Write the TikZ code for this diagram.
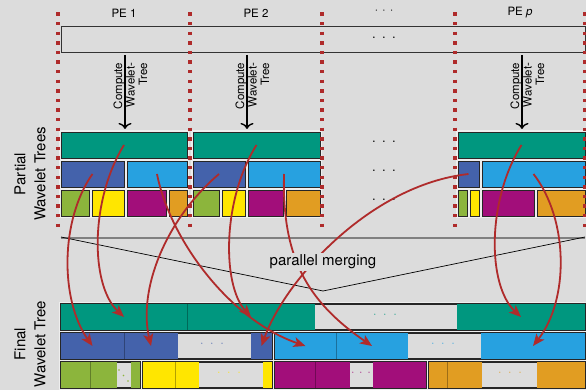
\documentclass[tikz,border=0pt]{standalone}
\usepackage{fontspec}
\setmainfont{TeX Gyre Heros}
\usetikzlibrary{arrows.meta}
\definecolor{bgcol}{HTML}{DCDCDC}
\definecolor{halocol}{HTML}{EEEEEE}
\definecolor{tealcol}{HTML}{00977F}
\definecolor{dbluecol}{HTML}{4462AB}
\definecolor{lbluecol}{HTML}{27A1E0}
\definecolor{greencol}{HTML}{8CB53C}
\definecolor{yellowcol}{HTML}{FFE600}
\definecolor{magcol}{HTML}{A20E7A}
\definecolor{orangecol}{HTML}{E19D22}
\definecolor{pecol}{HTML}{AF2B2B}

\begin{document}
\begin{tikzpicture}[
  x=1pt, y=-1pt,
  font=\fontsize{11.5}{12.5}\selectfont,
  cell/.style  = {draw=black!85, line width=0.9pt, inner sep=0pt, outer sep=0pt,
                  minimum height=26pt, anchor=north west,
                  preaction={draw=halocol, line width=3.6pt}},
  grp/.style   = {draw=black!85, fill=bgcol, line width=1.6pt, inner sep=0pt,
                  outer sep=0pt, minimum height=26pt, anchor=north west,
                  preaction={draw=halocol, line width=4.4pt}},
  seg/.style   = {inner sep=0pt, outer sep=0pt, minimum height=26pt, anchor=north west},
  sep/.style   = {line width=0.7pt, draw=black, draw opacity=0.3},
  pedots/.style= {draw=pecol, line width=3.3pt, dash pattern=on 3.3pt off 6.3pt},
  cmp/.style   = {-{Computer Modern Rightarrow[length=6pt,width=13pt]}, line width=1.4pt,
                  shorten >=3pt},
  cmptxt/.style= {rotate=90, align=right, inner sep=0pt},
  side/.style  = {rotate=90, align=center, font=\fontsize{15}{20}\selectfont},
  merge/.style = {-{Stealth[length=12pt,width=10pt,inset=3pt]}, draw=pecol, line width=1.8pt},
  gapdots/.style = {inner sep=0pt, font=\fontsize{11}{11}\selectfont}]
\newcommand{\blk}[5]{\node[#5, minimum width={(#3-#2)*1pt}] (#1) at (#2,#4) {};}
\newcommand{\dts}[1]{·\kern#1·\kern#1·}

\useasboundingbox (0,0) rectangle (586,390);
\fill[bgcol] (0,0) rectangle (586,390);

% PE headers and input
\node (pe1) at (124,13) {PE 1};
\node (pe2) at (256,13) {PE 2};
\node (pex) at (384,12) {\dts{4.4pt}};
\node (pep) at (520,13) {PE \textit{p}};
\node[draw=black!80, line width=0.8pt, fill=bgcol, minimum width=524pt, minimum height=26pt,
      inner sep=0pt, anchor=north west] (inp) at (61,26) {};
\node[font=\fontsize{15}{15}\selectfont] (inpx) at (384,39) {\dts{5.8pt}};

% partial wavelet trees
\blk{p1a}{61}{187}{132}{cell, fill=tealcol}
\blk{p1b}{61}{124}{161}{cell, fill=dbluecol}
\blk{p1c}{127}{187}{161}{cell, fill=lbluecol}
\blk{p1d}{61}{89}{190}{cell, fill=greencol}
\blk{p1e}{92}{124}{190}{cell, fill=yellowcol}
\blk{p1f}{127}{166}{190}{cell, fill=magcol}
\blk{p1g}{169}{187}{190}{cell, fill=orangecol}

\blk{p2a}{193}{320}{132}{cell, fill=tealcol}
\blk{p2b}{193}{245}{161}{cell, fill=dbluecol}
\blk{p2c}{248}{320}{161}{cell, fill=lbluecol}
\blk{p2d}{193}{219}{190}{cell, fill=greencol}
\blk{p2e}{222}{245}{190}{cell, fill=yellowcol}
\blk{p2f}{248}{283}{190}{cell, fill=magcol}
\blk{p2g}{286}{320}{190}{cell, fill=orangecol}

\blk{ppa}{458}{585}{132}{cell, fill=tealcol}
\blk{ppb}{458}{479}{161}{cell, fill=dbluecol}
\blk{ppc}{482}{585}{161}{cell, fill=lbluecol}
\blk{ppd}{458}{467}{190}{cell, fill=greencol}
\blk{ppe}{470}{479}{190}{cell, fill=yellowcol}
\blk{ppf}{482}{534}{190}{cell, fill=magcol}
\blk{ppg}{537}{585}{190}{cell, fill=orangecol}

\node[font=\fontsize{15}{15}\selectfont] (rx1) at (384,143) {\dts{5.8pt}};
\node[font=\fontsize{15}{15}\selectfont] (rx2) at (384,172) {\dts{5.8pt}};
\node[font=\fontsize{15}{15}\selectfont] (rx3) at (384,201) {\dts{5.8pt}};

% PE borders
\foreach \px in {58,190,322,455,585}
  \draw[pedots] (\px,12.5) -- (\px,227);

% compute arrows
\coordinate (k1) at (125,55);
\coordinate (k2) at (247,55);
\coordinate (kp) at (522,55);
\draw[cmp] (k1) -- (k1 |- p1a.north);
\draw[cmp] (k2) -- (k2 |- p2a.north);
\draw[cmp] (kp) -- (kp |- ppa.north);
\node[cmptxt] (c1) at (130.5,86) {Compute\\Wavelet-\\Tree};
\node[cmptxt] (c2) at (252.5,86) {Compute\\Wavelet-\\Tree};
\node[cmptxt] (cp) at (527.5,86) {Compute\\Wavelet-\\Tree};

\node[side] (lp) at (30,174) {Partial\\Wavelet Trees};
\node[side] (lf) at (30,344) {Final\\Wavelet Tree};

% merging funnel
\coordinate (fl) at (61,237);
\coordinate (fm) at (323,291);
\coordinate (fr) at (585,237);
\draw[line width=1.5pt, black!50] (61,238) -- (585,238);
\draw[line width=0.7pt] (fl) -- (fm) -- (fr);

% final wavelet tree
\blk{g1}{61}{585}{304}{grp}
\blk{g2a}{61}{272}{333}{grp}
\blk{g2b}{275}{585}{333}{grp}
\blk{g3a}{61}{140}{362}{grp}
\blk{g3b}{143}{272}{362}{grp}
\blk{g3c}{275}{426}{362}{grp}
\blk{g3d}{429}{585}{362}{grp}

\blk{f1a}{61}{187}{304}{seg, fill=tealcol}
\blk{f1b}{187}{315}{304}{seg, fill=tealcol}
\blk{f1c}{457}{585}{304}{seg, fill=tealcol}
\blk{f2a}{61}{124}{333}{seg, fill=dbluecol}
\blk{f2b}{124}{178}{333}{seg, fill=dbluecol}
\blk{f2c}{251}{272}{333}{seg, fill=dbluecol}
\blk{f2d}{275}{336}{333}{seg, fill=lbluecol}
\blk{f2e}{336}{408}{333}{seg, fill=lbluecol}
\blk{f2f}{481}{585}{333}{seg, fill=lbluecol}
\blk{f3a}{61}{90}{362}{seg, fill=greencol}
\blk{f3b}{90}{117}{362}{seg, fill=greencol}
\blk{f3c}{131}{140}{362}{seg, fill=greencol}
\blk{f3d}{143}{175}{362}{seg, fill=yellowcol}
\blk{f3e}{175}{199}{362}{seg, fill=yellowcol}
\blk{f3f}{263}{272}{362}{seg, fill=yellowcol}
\blk{f3g}{275}{315}{362}{seg, fill=magcol}
\blk{f3h}{315}{350}{362}{seg, fill=magcol}
\blk{f3i}{373}{426}{362}{seg, fill=magcol}
\blk{f3j}{429}{447}{362}{seg, fill=orangecol}
\blk{f3k}{447}{482}{362}{seg, fill=orangecol}
\blk{f3l}{537}{585}{362}{seg, fill=orangecol}

\draw[sep] (f1a.north east) -- (f1a.south east);
\draw[sep] (f2a.north east) -- (f2a.south east);
\draw[sep] (f2d.north east) -- (f2d.south east);
\draw[sep] (f3a.north east) -- (f3a.south east);
\draw[sep] (f3d.north east) -- (f3d.south east);
\draw[sep] (f3g.north east) -- (f3g.south east);
\draw[sep] (f3j.north east) -- (f3j.south east);

\node[gapdots, text=tealcol] (d1) at (385,316) {\dts{7pt}};
\node[gapdots, text=dbluecol] (d2) at (212,345) {\dts{7pt}};
\node[gapdots, text=lbluecol] (d3) at (443,345) {\dts{7pt}};
% narrow green gap: dots run diagonally
\fill[greencol] (119,370) circle (0.8) (123.5,375.5) circle (0.8) (128,381) circle (0.8);
\node[gapdots, text=yellowcol] (d5) at (229,374) {\dts{7pt}};
\node[gapdots, text=magcol] (d6) at (361,374) {\dts{5pt}};
\node[gapdots, text=orangecol] (d7) at (510,374) {\dts{7pt}};

% merging arrows
\draw[merge] (p1a.center) .. controls (90,200) and (90,285) .. (f1a.center);
\draw[merge] (p1b.center) .. controls (60,220) and (60,300) .. (f2a.center);
\draw[merge] (p1c.center) .. controls (170,240) and (230,320) .. (f2d.center);
\draw[merge] (p2a.center) .. controls (222,200) and (222,285) .. (f1b.center);
\draw[merge] (p2b.center) .. controls (165,220) and (138,290) .. (f2b.center);
\draw[merge] (p2c.center) .. controls (282,255) and (305,300) .. (f2e.center);
\draw[merge] (ppa.center) .. controls (487,200) and (487,285) .. (f1c.center);
\draw[merge] (ppb.center) .. controls (370,185) and (285,280) .. (f2c.center);
\draw[merge] (ppc.center) .. controls (569,220) and (569,300) .. (f2f.center);

\node[fill=bgcol, font=\fontsize{15}{15}\selectfont, inner sep=2pt] (pm) at (323,262) {parallel merging};
\end{tikzpicture}
\end{document}
